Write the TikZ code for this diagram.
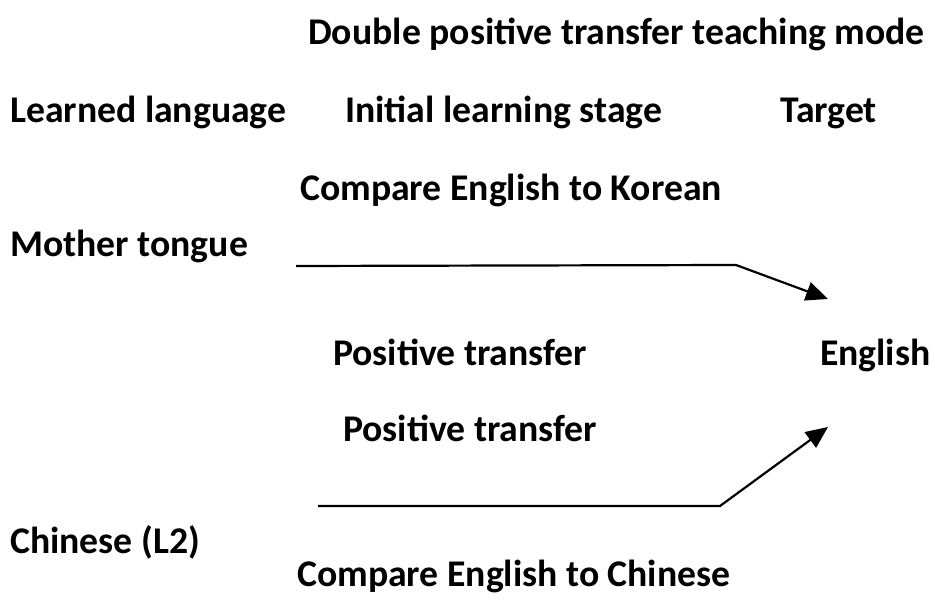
\documentclass[tikz,border=0pt]{standalone}
\usepackage{fontspec}
\setmainfont{Carlito}
\usetikzlibrary{arrows.meta}
\begin{document}
\begin{tikzpicture}[x=1pt,y=-1pt,
  lbl/.style={anchor=base west, inner sep=0pt, font=\bfseries\fontsize{37.7}{42}\selectfont},
  conn/.style={line width=2.2pt, -{Triangle[length=22pt,width=19pt]}}]
\useasboundingbox (0,0) rectangle (935,601);
\node[lbl] (title) at (308,45) {Double positive transfer teaching mode};
\node[lbl] (learned) at (10,123) {Learned language};
\node[lbl] (initial) at (345,123) {Initial learning stage};
\node[lbl] (target) at (780,123) {Target};
\node[lbl] (cmpk) at (300,201) {Compare English to Korean};
\node[lbl] (mother) at (10,257) {Mother tongue};
\node[lbl] (pos1) at (333,366) {Positive transfer};
\node[lbl] (english) at (820,366) {English};
\node[lbl] (pos2) at (343,442) {Positive transfer};
\node[lbl] (chinese) at (10,554) {Chinese (L2)};
\node[lbl] (cmpc) at (297,586) {Compare English to Chinese};
\coordinate (m0) at (296,266);
\coordinate (m1) at (736,265);
\coordinate (m2) at (828,299);
\coordinate (c0) at (318,506);
\coordinate (c1) at (720,506);
\coordinate (c2) at (828,427);
\draw[conn] (m0) -- (m1) -- (m2);
\draw[conn] (c0) -- (c1) -- (c2);
\end{tikzpicture}
\end{document}
